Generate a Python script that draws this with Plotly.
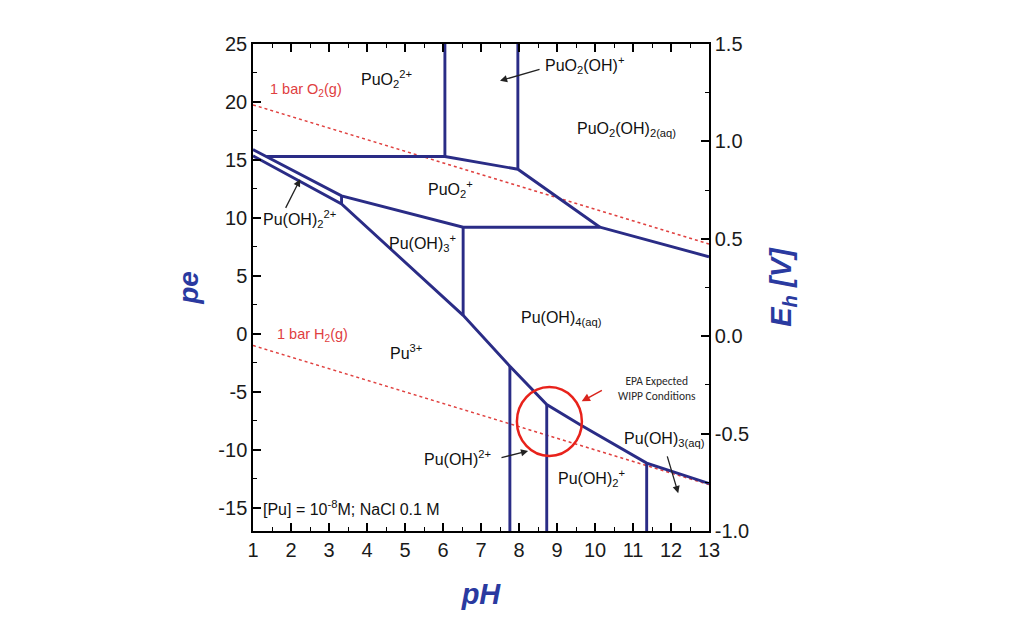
import plotly.graph_objects as go

# ---------------- data (pH, pe) ----------------
# stability-field boundaries
upper_diag_ph = [1.0, 3.33, 6.53, 10.13, 13.0]
upper_diag_pe = [15.9, 11.9, 9.2, 9.2, 6.65]

lower_diag_ph = [1.0, 3.33, 6.53, 7.76, 8.73, 9.61, 11.36, 13.0]
lower_diag_pe = [15.35, 11.2, 1.6, -2.8, -6.1, -7.84, -11.14, -12.9]

short_vert_ph = [3.33, 3.33]
short_vert_pe = [11.9, 11.2]

top_ridge_ph = [1.35, 6.05, 7.97, 10.13]
top_ridge_pe = [15.3, 15.3, 14.2, 9.2]

vert1_ph = [6.05, 6.05]
vert1_pe = [15.3, 25.0]
vert2_ph = [7.97, 7.97]
vert2_pe = [14.2, 25.0]
vert3_ph = [6.53, 6.53]
vert3_pe = [9.2, 1.6]
vert4_ph = [7.76, 7.76]
vert4_pe = [-2.8, -17.0]
vert5_ph = [8.73, 8.73]
vert5_pe = [-6.1, -17.0]
vert6_ph = [11.36, 11.36]
vert6_pe = [-11.14, -17.0]

# water stability limits
o2_ph = [1.0, 13.0]
o2_pe = [19.75, 7.75]
h2_ph = [1.0, 13.0]
h2_pe = [-1.0, -13.0]

# EPA expected WIPP conditions (ellipse centre and half-widths)
wipp_ph, wipp_pe = 8.80, -7.56
wipp_dph, wipp_dpe = 0.855, 2.98

# axis ticks
ph_ticks = list(range(1, 14))
pe_ticks = [-15, -10, -5, 0, 5, 10, 15, 20, 25]
pe_ticktext = ["-15", "-10", "-5", "0", "5", "10", "15", "20", "25"]
eh_ticks = [-1.0, -0.5, 0.0, 0.5, 1.0, 1.5]
eh_ticktext = ["-1.0", "-0.5", "0.0", "0.5", "1.0", "1.5"]

# species labels: (text, pH, pe, xanchor)
labels = [
    ("PuO<sub>2</sub><sup>2+</sup>", 4.5, 22.0, "center"),
    ("PuO<sub>2</sub>(OH)<sup>+</sup>", 8.62, 23.2, "left"),
    ("PuO<sub>2</sub>(OH)<sub>2(aq)</sub>", 10.84, 17.6, "center"),
    ("PuO<sub>2</sub><sup>+</sup>", 6.2, 12.5, "center"),
    ("Pu(OH)<sub>2</sub><sup>2+</sup>", 1.22, 9.9, "left"),
    ("Pu(OH)<sub>3</sub><sup>+</sup>", 5.47, 7.8, "center"),
    ("Pu<sup>3+</sup>", 5.03, -1.6, "center"),
    ("Pu(OH)<sub>4(aq)</sub>", 9.13, 1.3, "center"),
    ("Pu(OH)<sup>2+</sup>", 6.37, -10.7, "center"),
    ("Pu(OH)<sub>2</sub><sup>+</sup>", 9.9, -12.4, "center"),
    ("Pu(OH)<sub>3(aq)</sub>", 11.84, -9.1, "center"),
]

# pointer arrows: (tail pH, tail pe, tip pH, tip pe)
arrows = [
    (8.58, 22.85, 7.5, 21.83),
    (1.84, 10.74, 2.24, 13.33),
    (7.5, -10.7, 8.24, -10.1),
    (11.89, -10.43, 12.19, -13.74),
]
epa_arrow = (10.22, -4.81, 9.65, -5.82)

# ---------------- figure ----------------
NAVY = "#2a2c86"
RED = "#e0403f"
BLUE = "#2a3aa0"
FONT = "Arial, Liberation Sans, sans-serif"

fig = go.Figure()

boundaries = [
    (upper_diag_ph, upper_diag_pe), (lower_diag_ph, lower_diag_pe),
    (short_vert_ph, short_vert_pe), (top_ridge_ph, top_ridge_pe),
    (vert1_ph, vert1_pe), (vert2_ph, vert2_pe), (vert3_ph, vert3_pe),
    (vert4_ph, vert4_pe), (vert5_ph, vert5_pe), (vert6_ph, vert6_pe),
]
for xs, ys in [(o2_ph, o2_pe), (h2_ph, h2_pe)]:
    fig.add_trace(go.Scatter(x=xs, y=ys, mode="lines", hoverinfo="skip",
                             line=dict(color=RED, width=1.5, dash="3px,3px"),
                             showlegend=False))
for xs, ys in boundaries:
    fig.add_trace(go.Scatter(x=xs, y=ys, mode="lines", hoverinfo="skip",
                             line=dict(color=NAVY, width=2.9),
                             showlegend=False))
# invisible trace to carry the Eh axis
fig.add_trace(go.Scatter(x=[1, 13], y=[-1.0, 1.5], yaxis="y2", mode="lines",
                         line=dict(width=0), hoverinfo="skip", showlegend=False,
                         opacity=0))

fig.add_shape(type="circle", xref="x", yref="y",
              x0=wipp_ph - wipp_dph, x1=wipp_ph + wipp_dph,
              y0=wipp_pe - wipp_dpe, y1=wipp_pe + wipp_dpe,
              line=dict(color="#e8221b", width=2.5))

for text, x, y, xa in labels:
    fig.add_annotation(x=x, y=y, text=text, showarrow=False, xanchor=xa,
                       font=dict(family=FONT, size=16, color="#111111"))

for tx, ty, hx, hy in arrows:
    fig.add_annotation(x=hx, y=hy, ax=tx, ay=ty, axref="x", ayref="y",
                       text="", showarrow=True, arrowhead=2, arrowsize=1.1,
                       arrowwidth=1.3, arrowcolor="#222222")
fig.add_annotation(x=epa_arrow[2], y=epa_arrow[3], ax=epa_arrow[0], ay=epa_arrow[1],
                   axref="x", ayref="y", text="", showarrow=True, arrowhead=2,
                   arrowsize=1.1, arrowwidth=1.5, arrowcolor="#d9241c")

fig.add_annotation(x=11.63, y=-4.7, text="EPA Expected<br>WIPP Conditions",
                   showarrow=False, font=dict(family="Carlito, Open Sans, sans-serif",
                                              size=11.5, color="#2a2a2a"))
fig.add_annotation(x=1.22, y=-15.0, xanchor="left",
                   text="[Pu] = 10<sup>-8</sup>M; NaCl 0.1 M", showarrow=False,
                   font=dict(family=FONT, size=16, color="#111111"))
fig.add_annotation(x=1.39, y=21.0, xanchor="left", text="1 bar O<sub>2</sub>(g)",
                   showarrow=False, font=dict(family=FONT, size=14.5, color=RED))
fig.add_annotation(x=1.58, y=-0.1, xanchor="left", text="1 bar H<sub>2</sub>(g)",
                   showarrow=False, font=dict(family=FONT, size=14.5, color=RED))

axis_common = dict(showline=True, linecolor="black", linewidth=1.5, showgrid=False,
                   zeroline=False, ticks="inside", ticklen=8, tickwidth=1.5,
                   tickcolor="black",
                   tickfont=dict(family=FONT, size=20, color="#1a1a1a"))

fig.update_layout(
    width=1030, height=617,
    margin=dict(l=245, r=329, t=36, b=94),
    paper_bgcolor="white", plot_bgcolor="white",
    showlegend=False,
    xaxis=dict(range=[1, 13], tickvals=ph_ticks, mirror="ticks",
               minor=dict(dtick=0.5, tick0=1, ticks="inside", ticklen=4,
                          tickcolor="black", tickwidth=1.2),
               title=dict(text="<b><i>pH</i></b>", standoff=24,
                          font=dict(family=FONT, size=29, color=BLUE)),
               **axis_common),
    yaxis=dict(range=[-17, 25], tickvals=pe_ticks, ticktext=pe_ticktext,
               minor=dict(dtick=2.5, tick0=0, ticks="inside", ticklen=4,
                          tickcolor="black", tickwidth=1.2),
               title=dict(text="<b><i>pe</i></b>", standoff=12,
                          font=dict(family=FONT, size=28, color=BLUE)),
               **axis_common),
    yaxis2=dict(range=[-1.0, 1.5], tickvals=eh_ticks, ticktext=eh_ticktext,
                overlaying="y", side="right",
                minor=dict(dtick=0.25, tick0=0, ticks="inside", ticklen=4,
                           tickcolor="black", tickwidth=1.2),
                title=dict(text="<b><i>E<sub>h</sub> [V]</i></b>", standoff=22,
                           font=dict(family=FONT, size=29, color=BLUE)),
                **axis_common),
)

fig.write_html("out.html")
